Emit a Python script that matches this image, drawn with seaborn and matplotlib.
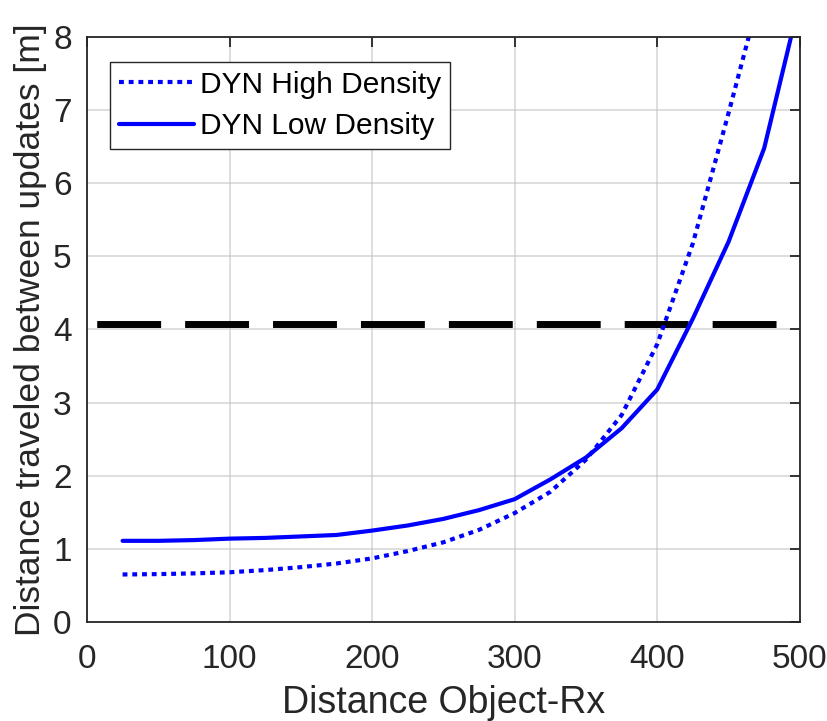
import matplotlib
matplotlib.use("Agg")
import matplotlib.pyplot as plt
import seaborn as sns
import pandas as pd
from matplotlib.lines import Line2D

# ---- data ----
distance = [25, 50, 75, 100, 125, 150, 175, 200, 225, 250, 275, 300, 325, 350, 375, 400, 425, 450, 475, 500]
high_density = [0.65, 0.655, 0.665, 0.68, 0.71, 0.75, 0.80, 0.87, 0.97, 1.09, 1.26, 1.49, 1.78, 2.22, 2.83, 3.80, 5.18, 6.96, 8.80, 10.5]
low_density = [1.11, 1.11, 1.12, 1.14, 1.15, 1.17, 1.19, 1.25, 1.32, 1.41, 1.53, 1.68, 1.95, 2.25, 2.65, 3.18, 4.15, 5.20, 6.48, 8.50]
threshold_x = [0, 500]
threshold_y = [4.07, 4.07]
labels = ["DYN High Density", "DYN Low Density"]
x_ticks = [0, 100, 200, 300, 400, 500]
y_ticks = [0, 1, 2, 3, 4, 5, 6, 7, 8]

sns.set_theme(style="white")
plt.rcParams['font.family'] = ['Liberation Sans', 'DejaVu Sans']
plt.rcParams['lines.scale_dashes'] = False

fig = plt.figure(figsize=(8.28, 7.21), dpi=100)
ax = fig.add_axes([0.105, 0.1373, 0.861, 0.8114])

df_h = pd.DataFrame({"x": distance, "y": high_density})
df_l = pd.DataFrame({"x": distance, "y": low_density})
df_t = pd.DataFrame({"x": threshold_x, "y": threshold_y})

blue = "#0000FF"
sns.lineplot(data=df_t, x="x", y="y", ax=ax, color="black", linewidth=5.0,
             linestyle=(56.3, (46, 17.3)), solid_capstyle="butt", dash_capstyle="butt")
sns.lineplot(data=df_h, x="x", y="y", ax=ax, color=blue, linewidth=3.0,
             linestyle=(0, (3.5, 3.5)), dash_capstyle="butt")
sns.lineplot(data=df_l, x="x", y="y", ax=ax, color=blue, linewidth=3.0)

ax.set_xlim(0, 500)
ax.set_ylim(0, 8)
ax.set_xticks(x_ticks)
ax.set_yticks(y_ticks)
ax.grid(True, color="#bfbfbf", linewidth=1.2, alpha=0.6)
ax.set_axisbelow(True)

axc = "#262626"
for s in ax.spines.values():
    s.set_visible(True)
    s.set_color(axc)
    s.set_linewidth(1.3)
ax.tick_params(direction="in", length=7, width=1.3, color=axc, labelsize=24,
               labelcolor=axc, top=True, right=True)
ax.tick_params(axis="x", pad=16)
ax.tick_params(axis="y", pad=11)

ax.set_xlabel("Distance Object-Rx", fontsize=27, color=axc, labelpad=7)
ax.set_ylabel("Distance traveled between updates [m]", fontsize=25.5, color=axc, labelpad=4)

handles = [Line2D([0], [0], color=blue, linewidth=3.0, linestyle=(0, (3.5, 3.5))),
           Line2D([0], [0], color=blue, linewidth=3.0)]
leg = ax.legend(handles, labels, loc="upper left", bbox_to_anchor=(0.033, 0.958),
                borderaxespad=0, fontsize=21.5, handlelength=2.5, handletextpad=0.2,
                borderpad=0.3, labelspacing=0.45, fancybox=False, framealpha=1,
                edgecolor="#262626")
leg.get_frame().set_linewidth(1.0)
for t in leg.get_texts():
    t.set_color("black")

fig.savefig("out.png", dpi=100)
